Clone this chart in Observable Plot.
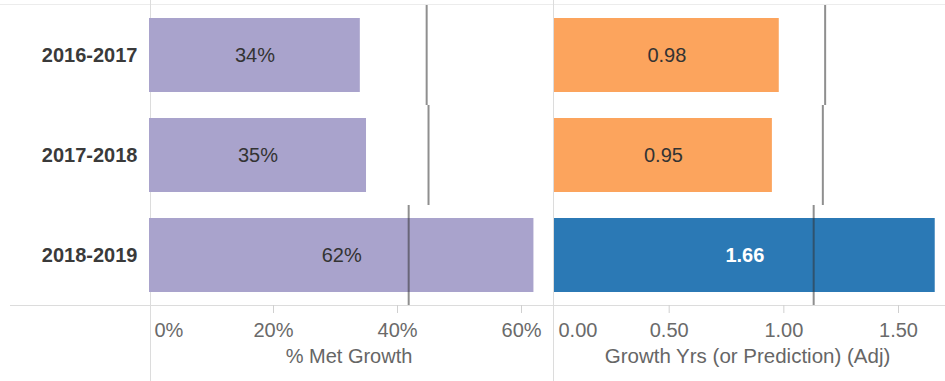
<!DOCTYPE html>
<html>
<head>
<meta charset="utf-8">
<script src="https://cdn.jsdelivr.net/npm/d3@7"></script>
<script src="https://cdn.jsdelivr.net/npm/@observablehq/plot@0.6"></script>
<style>
  html, body { margin: 0; padding: 0; background: #fff; }
  #wrap { position: relative; width: 945px; height: 381px; overflow: hidden; font-family: Arial, "Liberation Sans", sans-serif; }
  .panel { position: absolute; top: 0; }
  .hl { position: absolute; height: 1px; background: #dcdcdc; }
  .vl { position: absolute; width: 1px; background: #dcdcdc; top: 0; height: 381px; }
</style>
</head>
<body>
<div id="wrap">
  <div class="hl" style="left:0;width:945px;top:4px;background:#ececec"></div>
  <div class="hl" style="left:10px;width:935px;top:305px"></div>
  <div class="vl" style="left:150px"></div>
  <div class="vl" style="left:553px"></div>
  <div id="p1" class="panel" style="left:0"></div>
  <div id="p2" class="panel" style="left:551px"></div>
</div>
<script>
// ---- data ----
const periods = ["2016-2017", "2017-2018", "2018-2019"];
const metGrowth = [0.34, 0.35, 0.62];
const metGrowthRef = [0.447, 0.45, 0.418];
const growthYrs = [0.98, 0.95, 1.66];
const growthYrsRef = [1.18, 1.17, 1.13];
const growthType = ["Actual", "Actual", "Prediction"];
const metTicks = [0, 0.2, 0.4, 0.6];
const yrsTicks = [0, 0.5, 1.0, 1.5];
const metTitle = "% Met Growth";
const yrsTitle = "Growth Yrs (or Prediction) (Adj)";

const rows = periods.map((p, i) => ({
  period: p, met: metGrowth[i], metRef: metGrowthRef[i],
  yrs: growthYrs[i], yrsRef: growthYrsRef[i], type: growthType[i]
}));

const pct = d3.format(".0%");
const dec = d3.format(".2f");
const font = "Arial, 'Liberation Sans', sans-serif";
const common = {
  height: 381, marginTop: 5, marginBottom: 76,
  style: { fontFamily: font, fontSize: "20px", background: "transparent", overflow: "visible", color: "#333" },
  y: { domain: periods, paddingInner: 0.26, paddingOuter: 0.13, axis: null, label: null }
};
const refStyle = { stroke: "#333", strokeOpacity: 0.55, strokeWidth: 2, insetTop: -13, insetBottom: -13 };

const p1 = Plot.plot({
  ...common,
  width: 551, marginLeft: 149, marginRight: 3,
  x: { domain: [0, 0.6435], axis: null, label: null },
  marks: [
    Plot.barX(rows, { x: "met", y: "period", fill: "#a9a3cc" }),
    Plot.tickX(rows, { x: "metRef", y: "period", ...refStyle }),
    Plot.text(rows, { x: d => d.met / 2, y: "period", text: d => pct(d.met), fill: "#333", fontSize: 20 }),
    Plot.axisY({ tickSize: 0, tickPadding: 12, fontWeight: "bold", fill: "#3a3a3a", fontSize: 20, label: null }),
    Plot.axisX({ ticks: metTicks.slice(1), tickFormat: pct, tickSize: 8, tickPadding: 9, stroke: "#d0d0d0", fill: "#6a6a6a", fontSize: 20, label: null }),
    Plot.axisX({ ticks: metTicks.slice(0, 1), tickFormat: pct, tickSize: 0, tickPadding: 17, textAnchor: "start", dx: 5, fill: "#6a6a6a", fontSize: 20, label: null }),
    Plot.text([metTitle], { frameAnchor: "bottom", dy: 57, fill: "#666", fontSize: 20 })
  ]
});
document.getElementById("p1").appendChild(p1);

const p2 = Plot.plot({
  ...common,
  width: 394, marginLeft: 3, marginRight: 5,
  x: { domain: [0, 1.683], axis: null, label: null },
  color: { domain: ["Actual", "Prediction"], range: ["#fca45d", "#2b79b5"] },
  marks: [
    Plot.barX(rows, { x: "yrs", y: "period", fill: "type" }),
    Plot.tickX(rows, { x: "yrsRef", y: "period", ...refStyle }),
    Plot.text(rows.filter(d => d.type === "Actual"), { x: d => d.yrs / 2, y: "period", text: d => dec(d.yrs), fill: "#333", fontSize: 20 }),
    Plot.text(rows.filter(d => d.type !== "Actual"), { x: d => d.yrs / 2, y: "period", text: d => dec(d.yrs), fill: "#fff", fontWeight: "bold", fontSize: 20 }),
    Plot.axisX({ ticks: yrsTicks.slice(1), tickFormat: dec, tickSize: 8, tickPadding: 9, stroke: "#d0d0d0", fill: "#6a6a6a", fontSize: 20, label: null }),
    Plot.axisX({ ticks: yrsTicks.slice(0, 1), tickFormat: dec, tickSize: 0, tickPadding: 17, textAnchor: "start", dx: 4, fill: "#6a6a6a", fontSize: 20, label: null }),
    Plot.text([yrsTitle], { frameAnchor: "bottom", dy: 57, fill: "#666", fontSize: 20.5 })
  ]
});
document.getElementById("p2").appendChild(p2);
</script>
</body>
</html>
